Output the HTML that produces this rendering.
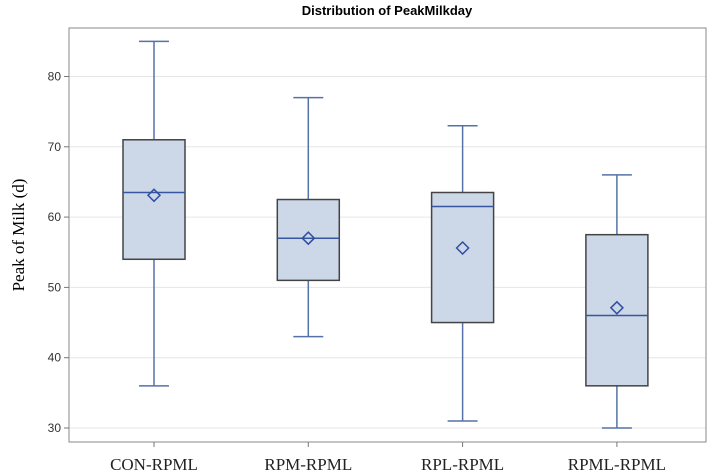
<!DOCTYPE html>
<html><head><meta charset="utf-8"><style>
body{margin:0;background:#fff;width:708px;height:476px;overflow:hidden}
svg{display:block}
</style></head><body>
<svg id="chart" width="708" height="476" xmlns="http://www.w3.org/2000/svg">
<text x="387" y="15" text-anchor="middle" font-family="Liberation Sans, sans-serif" font-weight="bold" font-size="13">Distribution of PeakMilkday</text>
<text transform="translate(24,235) rotate(-90)" text-anchor="middle" font-family="Liberation Serif, serif" font-size="17">Peak of Milk (d)</text>
<g id="grid"></g><g id="marks"></g><g id="axes"></g>
</svg>
<script>
const categories=["CON-RPML","RPM-RPML","RPL-RPML","RPML-RPML"];
const mins=[36,43,31,30];
const q1s=[54,51,45,36];
const medians=[63.5,57,61.5,46];
const means=[63.1,57,55.6,47.1];
const q3s=[71,62.5,63.5,57.5];
const maxs=[85,77,73,66];
const yTicks=[30,40,50,60,70,80];
const NS="http://www.w3.org/2000/svg";
const L=69,R=706,T=28,B=442;
const y=v=>428-(v-30)*7.03;
const x=i=>154+i*154.3;
function mk(tag,attrs,parent){const e=document.createElementNS(NS,tag);for(const k in attrs)e.setAttribute(k,attrs[k]);parent.appendChild(e);return e;}
const grid=document.getElementById('grid'),marks=document.getElementById('marks'),axes=document.getElementById('axes');
mk('rect',{x:L,y:T,width:R-L,height:B-T,fill:'none',stroke:'#8a8a8a','stroke-width':1},axes);
yTicks.forEach(v=>{
 const g=mk('line',{x1:L,x2:R,y1:y(v),y2:y(v),stroke:'#e6e6e6'},grid);
 
 mk('line',{x1:L-5,x2:L,y1:y(v),y2:y(v),stroke:'#777'},axes);
 const t=mk('text',{x:L-8,y:y(v)+4,'text-anchor':'end','font-family':'Liberation Sans, sans-serif','font-size':12,fill:'#333'},axes);
 t.textContent=v;
 
});
categories.forEach((c,i)=>{
 const cx=x(i),bw=62,cw=30;
 mk('line',{x1:cx,x2:cx,y1:B,y2:B+5,stroke:'#777'},axes);
 const t=mk('text',{x:cx,y:470,'text-anchor':'middle','font-family':'Liberation Serif, serif','font-size':17,fill:'#222'},axes);
 t.textContent=c;
 
 const g=mk('g',{},marks);
 
 const wc='#5572a8';
 mk('line',{x1:cx,x2:cx,y1:y(maxs[i]),y2:y(q3s[i]),stroke:wc,'stroke-width':1.5},g);
 mk('line',{x1:cx,x2:cx,y1:y(q1s[i]),y2:y(mins[i]),stroke:wc,'stroke-width':1.5},g);
 mk('line',{x1:cx-cw/2,x2:cx+cw/2,y1:y(maxs[i]),y2:y(maxs[i]),stroke:wc,'stroke-width':1.5},g);
 mk('line',{x1:cx-cw/2,x2:cx+cw/2,y1:y(mins[i]),y2:y(mins[i]),stroke:wc,'stroke-width':1.5},g);
 mk('rect',{x:cx-bw/2,y:y(q3s[i]),width:bw,height:y(q1s[i])-y(q3s[i]),fill:'#ccd7e7',stroke:'#444','stroke-width':1.5},g);
 mk('line',{x1:cx-bw/2,x2:cx+bw/2,y1:y(medians[i]),y2:y(medians[i]),stroke:'#3657a0','stroke-width':1.5},g);
 const my=y(means[i]);
 mk('polygon',{points:`${cx},${my-6} ${cx+6},${my} ${cx},${my+6} ${cx-6},${my}`,fill:'none',stroke:'#2f4fa0','stroke-width':1.5},g);
});
</script>
</body></html>
